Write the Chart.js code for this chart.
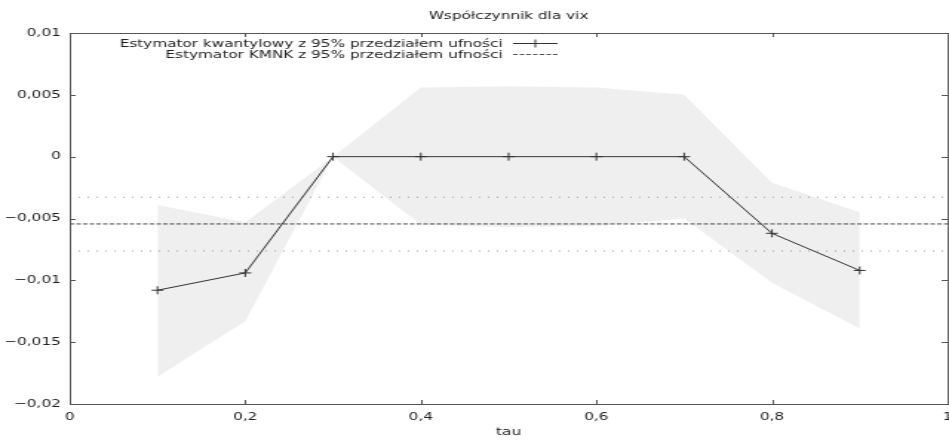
<!DOCTYPE html>
<html lang="pl">
<head>
<meta charset="utf-8">
<title>Współczynnik dla vix</title>
<script src="https://cdn.jsdelivr.net/npm/chart.js"></script>
<style>
  html, body { margin: 0; background: #fff; overflow: hidden; }
  /* gnuplot output was stretched sideways, so draw narrow and scale up (640 -> 949) */
  #wrap { width: 644px; height: 440px; transform: scaleX(1.4828); transform-origin: 0 0; }
</style>
</head>
<body>
<div id="wrap"><canvas id="chart" width="644" height="440"></canvas></div>
<script>
// dane
const tau = [0.1, 0.2, 0.3, 0.4, 0.5, 0.6, 0.7, 0.8, 0.9];
const quantileEst = [-0.0108, -0.0094, 0, 0, 0, 0, 0, -0.0062, -0.0092];
const upperCI = [-0.0039, -0.0053, 0.0000, 0.0056, 0.0057, 0.0056, 0.0050, -0.0021, -0.0045];
const lowerCI = [-0.0178, -0.0133, 0.0000, -0.0055, -0.0057, -0.0056, -0.0050, -0.0102, -0.0139];
const olsEst = -0.00544;
const olsUpper = -0.00328;
const olsLower = -0.00763;
const xRange = [0, 1];
const titleText = 'Współczynnik dla vix';
const legendLabels = ['Estymator kwantylowy z 95% przedziałem ufności', 'Estymator KMNK z 95% przedziałem ufności'];

const FONT = '"DejaVu Sans", Verdana, sans-serif';
const FSIZE = 10.3;
const TEXT = '#222';

const pts = arr => tau.map((t, i) => ({ x: t, y: arr[i] }));
const hline = v => xRange.map(x => ({ x: x, y: v }));

function fmt(v) {
  const r = Math.round(v * 1000) / 1000;
  return String(r).replace('.', ',').replace('-', '\u2212');
}

// ramka, wewnętrzne znaczniki, tytuł i legenda w stylu gnuplota
const gnuplotFrame = {
  id: 'gnuplotFrame',
  afterDraw(chart) {
    const { ctx, chartArea: a, scales: { x, y } } = chart;
    ctx.save();
    ctx.strokeStyle = '#555';
    ctx.lineWidth = 1;
    ctx.strokeRect(a.left + 0.5, a.top + 0.5, a.right - a.left, a.bottom - a.top);
    ctx.beginPath();
    x.ticks.forEach(t => {
      const px = Math.round(x.getPixelForValue(t.value)) + 0.5;
      ctx.moveTo(px, a.bottom); ctx.lineTo(px, a.bottom - 4);
      ctx.moveTo(px, a.top); ctx.lineTo(px, a.top + 4);
    });
    y.ticks.forEach(t => {
      const py = Math.round(y.getPixelForValue(t.value)) + 0.5;
      ctx.moveTo(a.left, py); ctx.lineTo(a.left + 4, py);
      ctx.moveTo(a.right, py); ctx.lineTo(a.right - 4, py);
    });
    ctx.stroke();

    ctx.fillStyle = TEXT;
    ctx.font = FSIZE + 'px ' + FONT;
    ctx.textBaseline = 'middle';
    ctx.textAlign = 'center';
    ctx.fillText(titleText, (a.left + a.right) / 2, 16);

    ctx.textAlign = 'right';
    ctx.fillText(legendLabels[0], 339, 44);
    ctx.fillText(legendLabels[1], 339, 55);

    ctx.strokeStyle = '#333';
    ctx.beginPath();
    ctx.moveTo(346, 43.5); ctx.lineTo(376, 43.5);
    ctx.moveTo(357, 43.5); ctx.lineTo(365, 43.5);
    ctx.moveTo(361, 39.5); ctx.lineTo(361, 47.5);
    ctx.stroke();

    ctx.strokeStyle = '#555';
    ctx.setLineDash([3, 1.5]);
    ctx.beginPath();
    ctx.moveTo(346, 54.5); ctx.lineTo(376, 54.5);
    ctx.stroke();
    ctx.restore();
  }
};

new Chart(document.getElementById('chart').getContext('2d'), {
  type: 'line',
  data: {
    datasets: [
      {
        label: 'upper',
        data: pts(upperCI),
        borderWidth: 0,
        pointRadius: 0,
        backgroundColor: '#efefef',
        fill: '+1',
        order: 3
      },
      {
        label: 'lower',
        data: pts(lowerCI),
        borderWidth: 0,
        pointRadius: 0,
        fill: false,
        order: 3
      },
      {
        label: 'KMNK',
        data: hline(olsEst),
        borderColor: '#444',
        borderWidth: 1,
        borderDash: [3, 1.5],
        pointRadius: 0,
        order: 2
      },
      {
        label: 'KMNK górna',
        data: hline(olsUpper),
        borderColor: '#999',
        borderWidth: 1,
        borderDash: [1, 5],
        pointRadius: 0,
        order: 2
      },
      {
        label: 'KMNK dolna',
        data: hline(olsLower),
        borderColor: '#999',
        borderWidth: 1,
        borderDash: [1, 5],
        pointRadius: 0,
        order: 2
      },
      {
        label: legendLabels[0],
        data: pts(quantileEst),
        borderColor: '#333',
        borderWidth: 1,
        pointStyle: 'cross',
        pointRadius: 4,
        pointBorderWidth: 1,
        pointBorderColor: '#333',
        fill: false,
        order: 1
      }
    ]
  },
  options: {
    responsive: false,
    animation: false,
    devicePixelRatio: 1,
    layout: { padding: { top: 33, right: 0, left: 0, bottom: 0 } },
    plugins: {
      legend: { display: false },
      title: { display: false },
      tooltip: { enabled: false }
    },
    scales: {
      x: {
        type: 'linear',
        min: xRange[0],
        max: xRange[1],
        grid: { display: false, drawTicks: false },
        border: { display: false },
        ticks: {
          stepSize: 0.2,
          padding: 7,
          color: TEXT,
          font: { family: FONT, size: FSIZE },
          maxRotation: 0,
          callback: v => fmt(v)
        },
        title: {
          display: true,
          text: 'tau',
          color: TEXT,
          font: { family: FONT, size: FSIZE },
          padding: { top: 0, bottom: 1 }
        },
        afterFit: s => { s.height = 36; s.paddingLeft = 0; s.paddingRight = 0; }
      },
      y: {
        min: -0.02,
        max: 0.01,
        grid: { display: false, drawTicks: false },
        border: { display: false },
        ticks: {
          stepSize: 0.005,
          padding: 6,
          color: TEXT,
          font: { family: FONT, size: FSIZE },
          callback: v => fmt(v)
        },
        afterFit: s => { s.width = 47; s.paddingTop = 0; s.paddingBottom = 0; }
      }
    }
  },
  plugins: [gnuplotFrame]
});
</script>
</body>
</html>
